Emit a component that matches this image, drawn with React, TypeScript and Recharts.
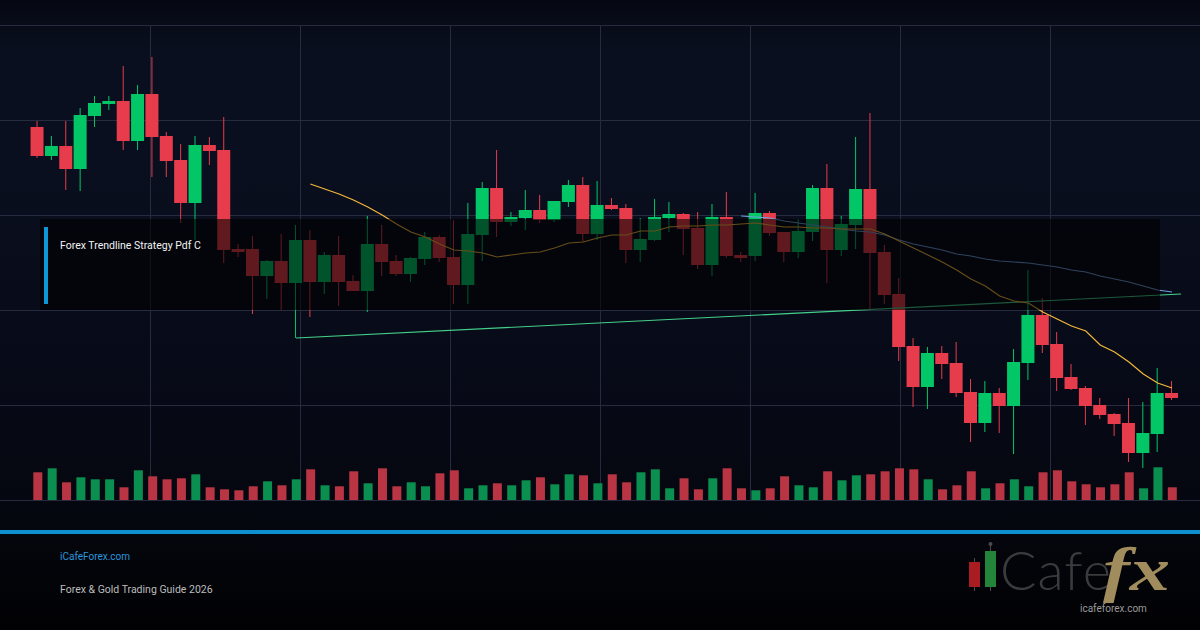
import React from "react";
import { ComposedChart, Bar, Line, XAxis, YAxis, CartesianGrid } from "recharts";

const opens = [373,344,354,331,384,396,399,359,406,364,340,297,355,350,251,251,224,239,217,260,218,245,219,209,256,239,226,241,263,243,215,265,312,278,282,290,280,298,315,266,295,292,250,260,282,286,272,235,283,245,244,287,268,248,268,312,250,275,311,248,206,154,113,147,137,108,77,107,94,137,185,156,123,112,95,86,77,47,66,107];
const closes = [344,354,331,385,397,399,359,406,363,339,297,355,349,250,248,224,239,217,260,218,245,218,209,256,238,226,242,263,242,215,266,312,278,283,290,280,299,315,266,295,291,250,261,283,286,271,235,283,244,242,287,267,248,269,312,250,276,311,247,205,153,113,147,136,107,77,107,94,138,185,155,122,111,94,85,76,47,67,107,102];
const highs = [379,364,379,392,404,404,434,415,443,368,356,364,363,383,256,264,240,266,275,270,248,264,225,284,275,245,243,268,265,280,297,318,350,288,310,305,299,320,323,319,302,296,282,301,298,287,288,296,308,248,307,289,268,281,315,336,284,363,387,255,222,162,153,154,158,121,119,112,151,230,202,168,136,114,102,87,102,98,132,119];
const lows = [342,340,310,309,373,390,350,350,323,323,277,260,335,237,243,186,201,190,162,183,206,194,209,188,224,224,218,235,238,196,196,239,263,274,270,277,278,293,258,260,290,237,238,259,268,245,231,224,242,238,239,264,238,242,259,217,244,251,190,196,139,93,91,121,103,58,68,67,46,120,147,109,110,75,81,64,38,32,48,100];
const volumes = [27.7,31.7,17.7,22.7,20.7,20.7,12.7,29.7,23.7,20.7,21.7,25.7,12.7,10.7,9.7,13.7,18.7,14.7,20.7,30.7,14.7,13.7,28.7,16.7,31.7,13.7,17.7,13.7,26.7,29.7,11.7,14.7,16.7,14.7,19.7,22.7,15.7,25.7,24.7,16.7,25.7,17.7,27.7,30.7,11.7,21.7,10.7,21.7,31.7,11.7,9.7,11.7,23.7,14.7,12.7,28.7,19.7,24.7,25.7,28.7,31.7,30.7,20.7,10.7,14.7,28.7,11.7,16.7,20.7,13.7,27.7,29.7,18.7,15.7,12.7,15.7,27.7,11.7,32.7,12.7];
const slowAverage = [316,311,306,300,293,285,276,268,263,256,250,249,247,243,245,247,248,252,257,258,262,265,265,269,269,273,274,274,275,275,276,277,275,273,273,272,272,271,271,271,266,259,252,245,238,230,221,214,204,199,197,188,181,174,169,155,148,138,126,117,112];
const slowStart = 19;
const longAverage = [284,283,282,279,277,275,273,271,269,268,265,260,256,253,250,246,244,241,239,238,237,235,233,230,228,224,221,218,214,210,208];
const longStart = 49;
const trendPoints = [{ i: 18, trend: 162 }, { i: 79.63, trend: 206 }];

const rows = opens.map((open, i) => ({
  i, open, close: closes[i], high: highs[i], low: lows[i], volume: volumes[i],
  slow: i >= slowStart ? slowAverage[i - slowStart] : null,
  long: i >= longStart ? longAverage[i - longStart] : null,
}));

const UP = "#03c767";
const DOWN = "#e63c4c";
const UP_VOL = "#0b8f50";
const DOWN_VOL = "#b93543";
const BODY_WIDTH = 13;
const VOLUME_WIDTH = 9;

const Candle = (props: any) => {
  const { x, y, width, height, payload } = props;
  const h = Math.abs(height);
  const span = payload.high - payload.low || 1;
  const unit = h / span;
  const top = Math.min(y, y + height);
  const up = payload.close >= payload.open;
  const color = up ? UP : DOWN;
  const bodyTop = top + (payload.high - Math.max(payload.open, payload.close)) * unit;
  const bodyH = Math.max(Math.abs(payload.close - payload.open) * unit, 1);
  const cx = x + width / 2;
  return (
    <g>
      <line x1={cx} x2={cx} y1={top} y2={top + h} stroke={color} strokeWidth={1} />
      <rect x={cx - BODY_WIDTH / 2} y={bodyTop} width={BODY_WIDTH} height={bodyH} fill={color} />
    </g>
  );
};

const VolumeBar = (props: any) => {
  const { x, y, width, height, payload } = props;
  const cx = x + width / 2;
  return <rect x={cx - VOLUME_WIDTH / 2} y={y} width={VOLUME_WIDTH} height={height} fill={payload.close >= payload.open ? UP_VOL : DOWN_VOL} />;
};

const text: React.CSSProperties = { position: "absolute", whiteSpace: "nowrap", fontFamily: "Roboto, sans-serif", lineHeight: "14px" };

export default function App() {
  return (
    <div style={{ position: "absolute", left: 0, top: 0, width: 1200, height: 630, overflow: "hidden", background: "linear-gradient(180deg,#050812 0%,#0a0f1f 8%,#0a0f1f 25%,#070a17 60%,#05070f 82%,#010103 100%)" }}>
      <ComposedChart width={1200} height={630} data={rows} margin={{ top: 25, right: 0, bottom: 130, left: 0 }}>
        <XAxis xAxisId="price" dataKey="i" type="number" domain={[-2.611, 80.95]} hide allowDataOverflow />
        <XAxis xAxisId="vol" dataKey="i" type="number" domain={[-2.611, 80.95]} hide allowDataOverflow />
        <YAxis yAxisId="price" domain={[0, 475]} hide />
        <YAxis yAxisId="vol" domain={[0, 475]} hide />
        <CartesianGrid xAxisId="price" yAxisId="price" stroke="#262b40" strokeWidth={1} horizontalPoints={[25.5, 120.5, 215.5, 310.5, 405.5, 500.5]} verticalPoints={[150.5, 300.5, 450.5, 600.5, 750.5, 900.5, 1050.5]} />
        <Bar xAxisId="vol" yAxisId="vol" dataKey="volume" barSize={9} shape={VolumeBar} isAnimationActive={false} />
        <Bar xAxisId="price" yAxisId="price" dataKey={(d: any) => [d.low, d.high]} barSize={13} shape={Candle} isAnimationActive={false} />
        <Line xAxisId="price" yAxisId="price" data={trendPoints} dataKey="trend" stroke="#45d08a" strokeWidth={1.1} dot={false} isAnimationActive={false} />
        <Line xAxisId="price" yAxisId="price" dataKey="long" stroke="#6f9fdc" strokeWidth={1.2} dot={false} isAnimationActive={false} />
        <Line xAxisId="price" yAxisId="price" dataKey="slow" stroke="#f5b73b" strokeWidth={1.2} dot={false} isAnimationActive={false} />
      </ComposedChart>

      <div style={{ position: "absolute", left: 40, top: 219, width: 1120, height: 91, background: "rgba(0,0,0,0.58)" }} />
      <div style={{ position: "absolute", left: 44, top: 227, width: 4, height: 77, background: "#0e96d8" }} />
      <div style={{ ...text, left: 60, top: 238.5, fontSize: 10.5, color: "#f2f2f2" }}>Forex Trendline Strategy Pdf C</div>

      <div style={{ position: "absolute", left: 0, top: 530, width: 1200, height: 4, background: "#0e8fd0" }} />
      <div style={{ ...text, left: 60, top: 550, fontSize: 10, color: "#2a95dc" }}>iCafeForex.com</div>
      <div style={{ ...text, left: 60, top: 583, fontSize: 10.5, color: "#bdbdbd" }}>Forex &amp; Gold Trading Guide 2026</div>

      <svg width={230} height={100} viewBox="950 525 230 100" style={{ position: "absolute", left: 950, top: 525 }}>
        <line x1={974.5} x2={974.5} y1={558} y2={591} stroke="#4a4a4a" />
        <rect x={969} y={562} width={11} height={25} fill="#a91c22" />
        <line x1={990.5} x2={990.5} y1={546} y2={591} stroke="#4a4a4a" />
        <circle cx={990.5} cy={544} r={2} fill="#4a4a4a" />
        <rect x={985} y={551} width={11} height={36} fill="#23853a" />
        <text x={1000} y={590} fontFamily="Lato, sans-serif" fontWeight={300} fontSize={54} letterSpacing={1} fill="#3b3b3e">Cafe</text>
        <text transform="translate(1103,590) scale(1.3,1)" fontFamily="Liberation Serif, serif" fontWeight={700} fontStyle="italic" fontSize={62} fill="#a08c5c">fx</text>
        <text x={1080} y={612} fontFamily="Roboto, sans-serif" fontSize={10} fill="#9a9a9a">icafeforex.com</text>
      </svg>
    </div>
  );
}
